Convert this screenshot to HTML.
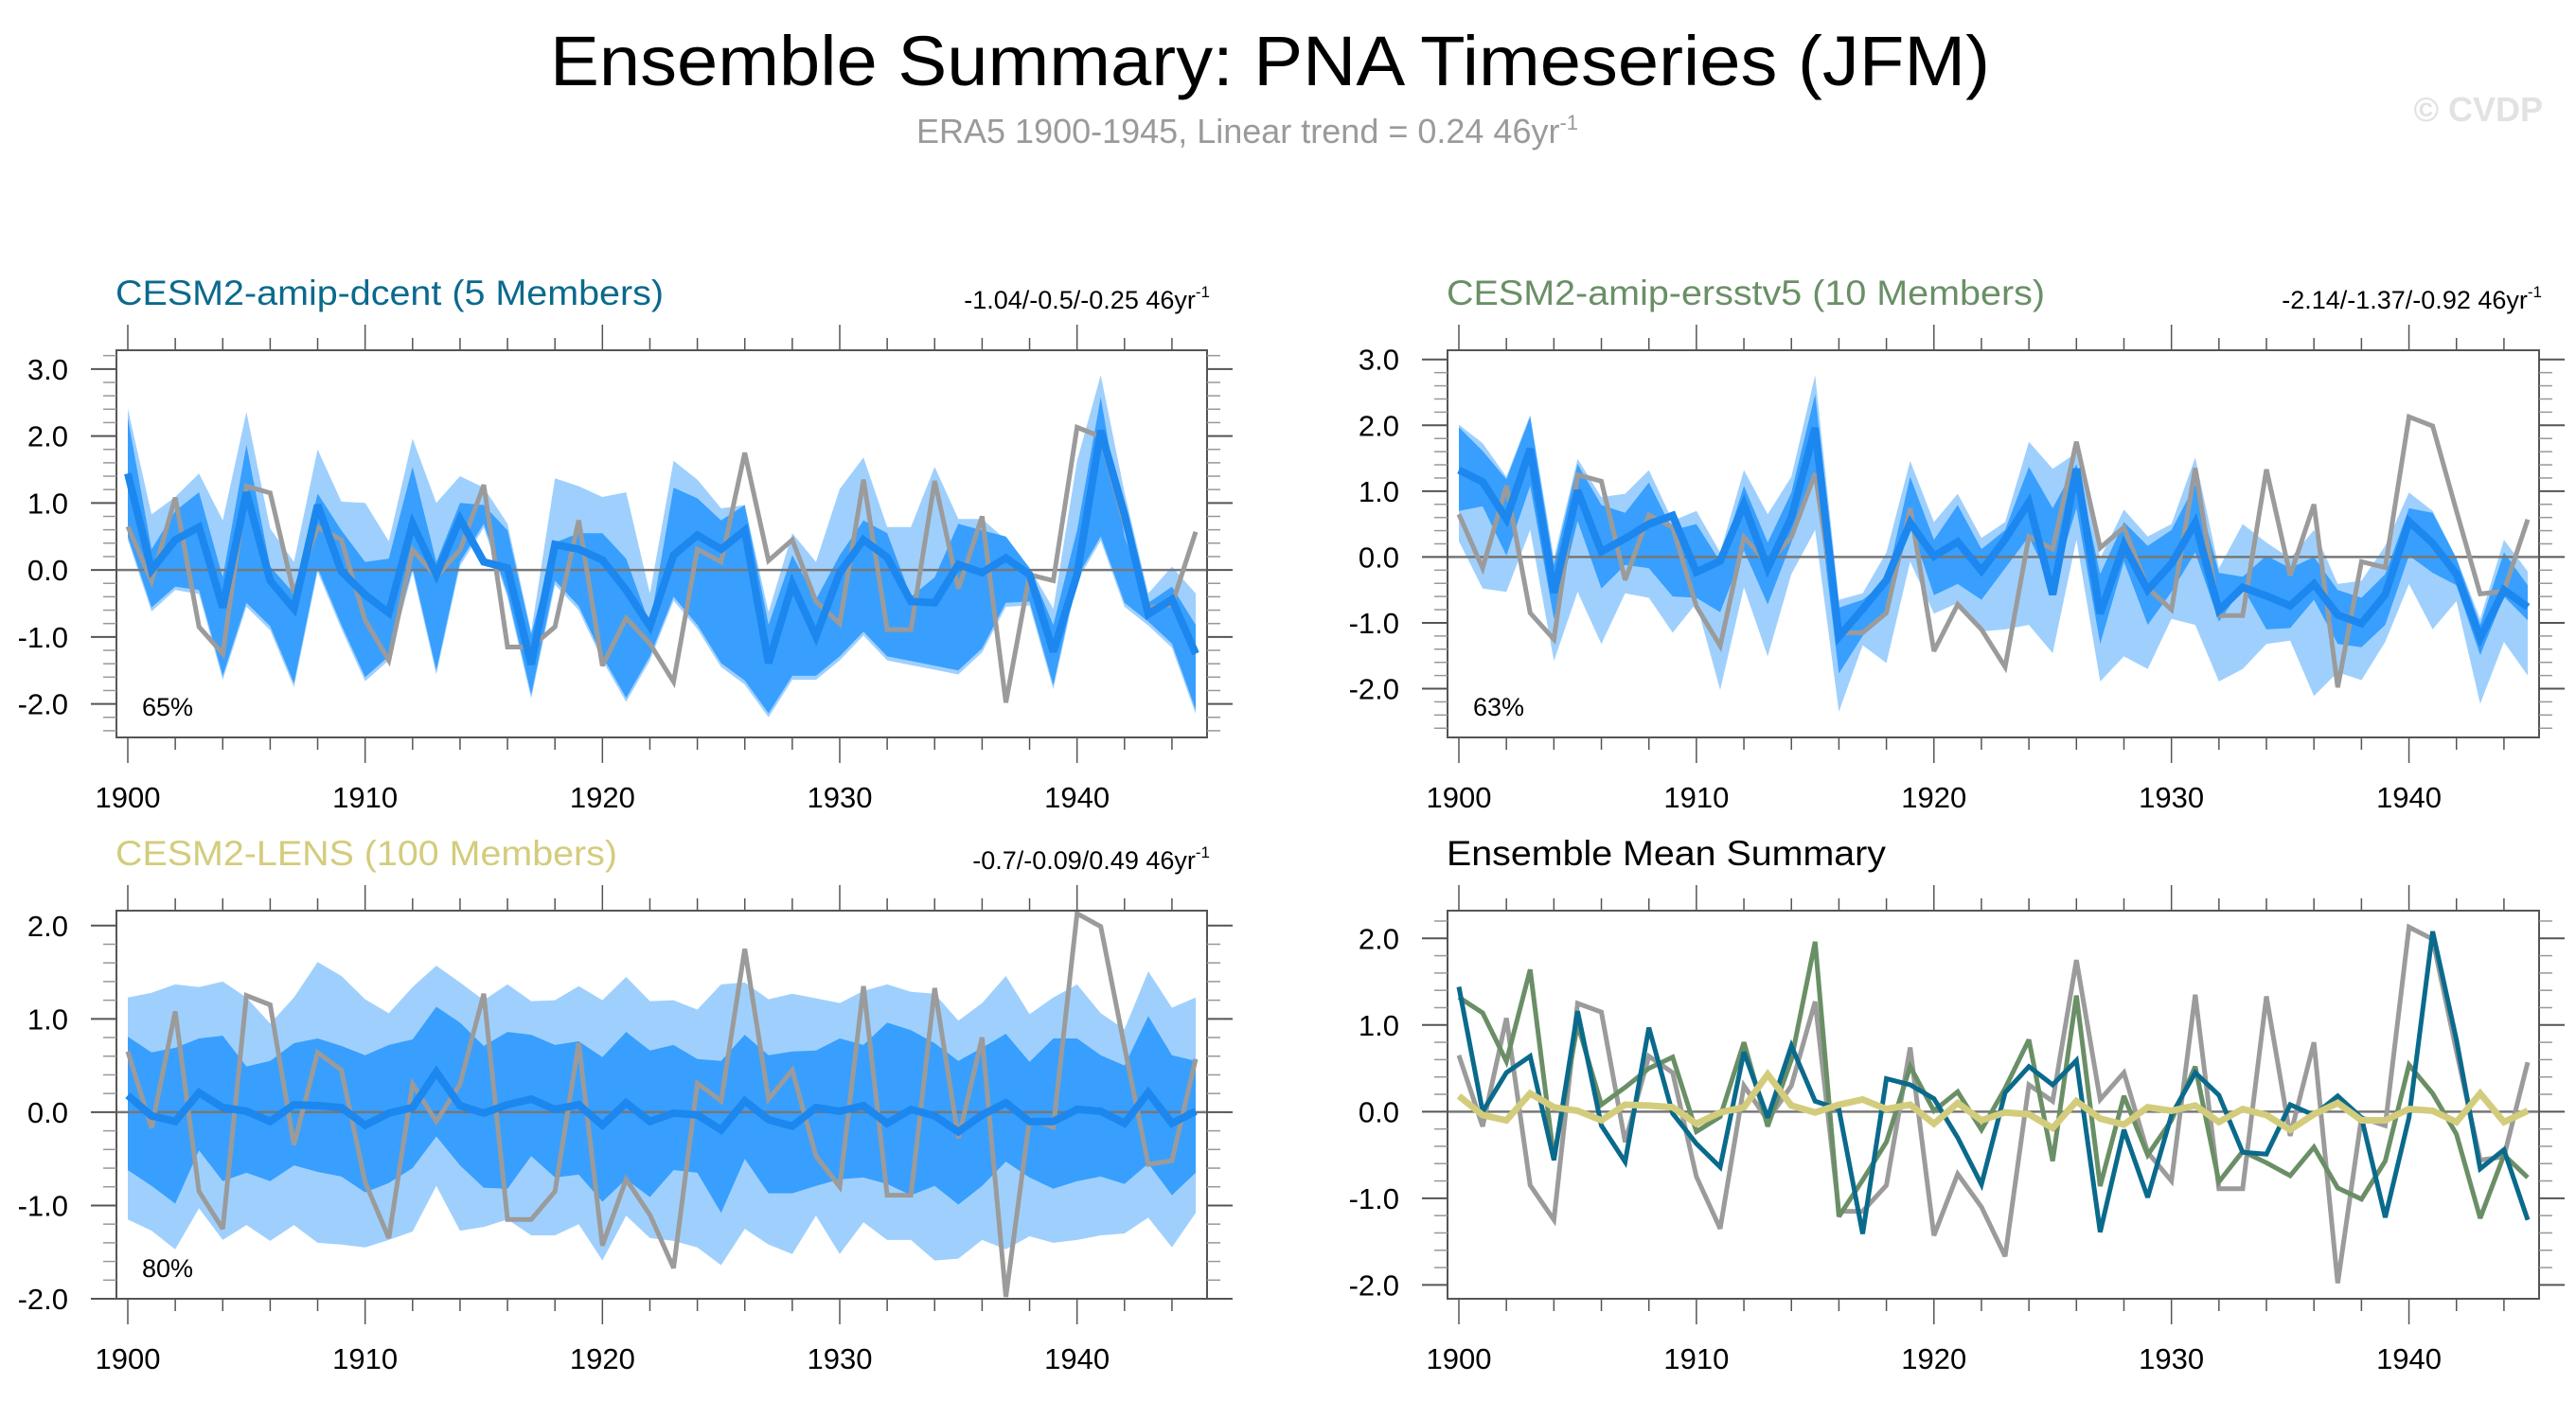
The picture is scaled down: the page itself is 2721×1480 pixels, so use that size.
<!DOCTYPE html>
<html><head><meta charset="utf-8"><title>Ensemble Summary: PNA Timeseries (JFM)</title>
<style>html,body{margin:0;padding:0;background:#fff}svg{display:block;font-family:"Liberation Sans",sans-serif}</style>
</head><body>
<svg id="chart" xmlns="http://www.w3.org/2000/svg" width="2721" height="1480" viewBox="0 0 2721 1480">
<text x="581" y="90" font-size="74" textLength="1521" lengthAdjust="spacingAndGlyphs">Ensemble Summary: PNA Timeseries (JFM)</text>
<text x="968" y="151" font-size="36" fill="#9a9a9a">ERA5 1900-1945, Linear trend = 0.24 46yr<tspan font-size="22" dy="-14">-1</tspan></text>
<text x="2686" y="128" font-size="36" font-weight="bold" fill="#e2e2e2" text-anchor="end">© CVDP</text>
<g id="panels"></g>
</svg>
<script>
const years = [];
for (let y = 1900; y <= 1945; y++) years.push(y);
const era5 = [0.65,-0.17,1.08,-0.85,-1.25,1.25,1.15,-0.35,0.64,0.45,-0.75,-1.35,0.3,-0.1,0.3,1.27,-1.15,-1.15,-0.85,0.74,-1.43,-0.72,-1.1,-1.67,0.31,0.12,1.75,0.14,0.45,-0.47,-0.8,1.35,-0.89,-0.89,1.33,-0.28,0.8,-1.98,-0.07,-0.16,2.13,1.99,0.7,-0.56,-0.52,0.57];
const dcentMean = [1.44,0.0,0.45,0.64,-0.56,1.16,-0.16,-0.58,0.97,-0.02,-0.37,-0.64,0.69,-0.07,0.76,0.12,0.03,-1.41,0.38,0.31,0.15,-0.3,-0.84,0.22,0.52,0.31,0.59,-1.39,-0.21,-0.99,-0.04,0.45,0.19,-0.47,-0.49,0.08,-0.04,0.18,-0.07,-1.22,-0.07,2.08,0.83,-0.66,-0.44,-1.25];
const dcentLightUp = [2.41,0.83,1.09,1.44,0.74,2.36,0.62,0.12,1.80,1.02,1.00,0.43,1.96,1.00,1.40,1.23,0.69,-0.92,1.37,1.25,1.09,1.16,-0.35,1.63,1.35,0.92,0.97,-0.63,0.55,0.12,1.21,1.68,0.64,0.64,1.54,0.76,0.76,0.45,0.03,-0.58,1.63,2.91,1.16,-0.35,0.05,-0.35];
const dcentDarkUp = [2.27,0.31,0.88,1.16,-0.11,1.87,0.05,-0.35,1.14,0.59,0.12,0.17,1.54,0.12,1.00,0.97,0.59,-0.96,0.41,0.55,0.55,0.17,-0.82,1.23,1.07,0.74,0.97,-0.82,0.22,-0.44,0.22,0.74,0.55,-0.40,-0.11,0.69,0.59,0.50,0.03,-0.82,0.59,2.58,0.50,-0.49,-0.25,-0.82];
const dcentDarkLo = [0.50,-0.56,-0.25,-0.30,-1.58,-0.49,-0.84,-1.69,0.03,-0.82,-1.60,-1.29,0.03,-1.50,0.12,0.69,-0.35,-1.86,-0.16,-0.54,-1.29,-1.91,-1.29,-0.40,-0.82,-1.39,-1.65,-2.14,-1.58,-1.58,-1.29,-0.92,-1.29,-1.36,-1.43,-1.50,-1.17,-0.49,-0.47,-1.72,-0.11,0.50,-0.49,-0.77,-1.10,-2.09];
const dcentLightLo = [0.45,-0.62,-0.30,-0.36,-1.64,-0.55,-0.90,-1.75,-0.03,-0.88,-1.66,-1.35,-0.03,-1.56,0.06,0.63,-0.41,-1.92,-0.22,-0.60,-1.35,-1.97,-1.35,-0.46,-0.88,-1.45,-1.71,-2.20,-1.64,-1.64,-1.35,-0.98,-1.35,-1.42,-1.49,-1.56,-1.23,-0.55,-0.53,-1.78,-0.17,0.44,-0.55,-0.83,-1.16,-2.15];
const ersstMean = [1.32,1.14,0.58,1.64,-0.54,1.01,0.08,0.28,0.5,0.63,-0.23,-0.06,0.8,-0.17,0.6,1.96,-1.21,-0.79,-0.35,0.52,0.01,0.23,-0.21,0.27,0.83,-0.57,1.34,-0.86,0.18,-0.5,-0.1,0.52,-0.81,-0.46,-0.59,-0.74,-0.41,-0.88,-1.01,-0.57,0.54,0.21,-0.26,-1.23,-0.5,-0.76];
const ersstLightUp = [2.01,1.73,1.22,2.16,-0.02,1.49,0.91,0.96,1.32,0.55,0.70,0.07,1.32,0.65,1.22,2.76,-0.65,-0.55,0.07,1.46,0.53,0.96,0.29,0.53,1.75,1.34,1.58,-0.02,0.72,0.31,0.50,1.51,-0.17,0.50,0.22,-0.02,0.41,-0.41,-0.36,0.17,0.98,0.70,-0.02,-0.94,0.26,-0.22];
const ersstDarkUp = [1.97,1.61,1.18,2.13,-0.12,1.41,0.79,0.67,1.13,0.41,0.50,-0.07,1.08,0.22,0.98,2.47,-0.77,-0.65,-0.36,1.22,0.26,0.79,0.12,0.41,1.37,0.74,1.41,-0.26,0.53,0.17,0.41,1.10,-0.24,-0.30,0.02,-0.17,0.00,-0.50,-0.62,-0.26,0.74,0.67,-0.02,-1.03,0.07,-0.43];
const ersstDarkLo = [0.70,0.77,0.02,1.08,-0.94,0.55,-0.48,-0.12,-0.17,-0.60,-0.62,-0.84,0.10,-0.72,0.22,1.22,-1.77,-1.20,-0.84,0.50,-0.58,-0.41,-0.65,-0.17,0.31,-0.46,0.74,-1.32,-0.07,-1.03,-0.53,0.07,-0.98,-0.46,-1.10,-1.08,-0.65,-1.32,-1.37,-1.03,0.02,-0.24,-0.43,-1.49,-0.60,-0.96];
const ersstLightLo = [0.24,-0.48,-0.53,0.41,-1.58,-0.53,-1.32,-0.55,-0.62,-1.15,-0.70,-2.02,-0.46,-1.51,-0.26,0.41,-2.35,-1.34,-1.61,-0.07,-0.86,-0.70,-1.13,-1.10,-1.03,-1.46,0.26,-1.89,-1.51,-1.70,-0.94,-1.03,-1.89,-1.70,-1.32,-1.27,-2.11,-1.75,-1.87,-1.29,-0.41,-1.10,-0.67,-2.23,-1.29,-1.80];
const lensMean = [0.18,-0.04,-0.1,0.21,0.05,0.01,-0.1,0.08,0.07,0.05,-0.14,-0.01,0.05,0.43,0.07,-0.01,0.08,0.14,0.03,0.08,-0.14,0.1,-0.1,-0.01,-0.03,-0.19,0.12,-0.08,-0.15,0.05,0.01,0.07,-0.12,0.03,-0.04,-0.21,-0.03,0.1,-0.1,-0.1,0.03,0.01,-0.12,0.21,-0.12,0.01];
const lensLightUp = [1.23,1.28,1.37,1.34,1.40,1.23,0.95,1.23,1.61,1.46,1.21,1.06,1.34,1.57,1.39,1.20,1.37,1.19,1.20,1.35,1.20,1.45,1.19,1.20,1.10,1.37,1.39,1.21,1.27,1.22,1.17,1.30,1.37,1.29,1.27,0.98,1.17,1.46,1.05,1.23,1.37,1.06,0.89,1.51,1.12,1.23];
const lensDarkUp = [0.81,0.64,0.69,0.79,0.82,0.49,0.55,0.74,0.79,0.71,0.61,0.72,0.78,1.13,0.96,0.71,0.86,0.83,0.72,0.76,0.59,0.86,0.66,0.72,0.57,0.55,0.83,0.61,0.65,0.66,0.79,0.72,0.96,0.88,0.74,0.55,0.69,0.84,0.54,0.79,0.79,0.61,0.50,1.03,0.61,0.55];
const lensDarkLo = [-0.62,-0.79,-0.98,-0.41,-0.74,-0.65,-0.74,-0.57,-0.64,-0.69,-0.86,-0.76,-0.60,-0.26,-0.57,-0.81,-0.82,-0.47,-0.70,-0.67,-0.96,-0.72,-0.91,-0.62,-0.65,-1.08,-0.50,-0.87,-0.87,-0.79,-0.72,-0.70,-0.77,-0.89,-0.79,-0.99,-0.79,-0.53,-0.70,-0.82,-0.74,-0.69,-0.77,-0.55,-0.89,-0.65];
const lensLightLo = [-1.15,-1.27,-1.47,-1.03,-1.37,-1.21,-1.38,-1.21,-1.40,-1.42,-1.45,-1.37,-1.28,-0.79,-1.27,-1.23,-1.15,-1.32,-1.32,-1.20,-1.59,-1.11,-1.35,-1.38,-1.45,-1.64,-1.25,-1.42,-1.52,-1.11,-1.52,-1.18,-1.37,-1.37,-1.59,-1.57,-1.37,-1.47,-1.33,-1.40,-1.37,-1.32,-1.30,-1.13,-1.45,-1.08];
const xTickLabels = [1900,1910,1920,1930,1940];
const yTicks1 = [-2,-1,0,1,2,3];
const yTicks3 = [-2,-1,0,1,2];

const NS = 'http://www.w3.org/2000/svg';
const root = document.getElementById('panels');
function mk(tag, attrs, parent){
  const e = document.createElementNS(NS, tag);
  for (const k in attrs) e.setAttribute(k, attrs[k]);
  (parent||root).appendChild(e);
  return e;
}
const panels = [
  {key:'dcent', L:123,R:1275,T:370,B:779,ymin:-2.5,ymax:3.28,ticks:yTicks1,title:'CESM2-amip-dcent (5 Members)',tcol:'#0a6a8c',tlen:579,trend:'-1.04/-0.5/-0.25 46yr',pct:'65%',
   bands:[dcentLightUp,dcentLightLo,dcentDarkUp,dcentDarkLo],mean:dcentMean},
  {key:'ersstv5', L:1529,R:2682,T:370,B:779,ymin:-2.74,ymax:3.14,ticks:yTicks1,title:'CESM2-amip-ersstv5 (10 Members)',tcol:'#6a8f66',tlen:632,trend:'-2.14/-1.37/-0.92 46yr',pct:'63%',
   bands:[ersstLightUp,ersstLightLo,ersstDarkUp,ersstDarkLo],mean:ersstMean},
  {key:'lens', L:123,R:1275,T:962,B:1372,ymin:-2.0,ymax:2.16,ticks:yTicks3,title:'CESM2-LENS (100 Members)',tcol:'#d3cc7c',tlen:530,trend:'-0.7/-0.09/0.49 46yr',pct:'80%',
   bands:[lensLightUp,lensLightLo,lensDarkUp,lensDarkLo],mean:lensMean},
  {key:'summary', L:1529,R:2682,T:962,B:1372,ymin:-2.16,ymax:2.32,ticks:yTicks3,title:'Ensemble Mean Summary',tcol:'#000',tlen:464,trend:null,pct:null,bands:null,mean:null}
];
panels.forEach(p=>{
  const g = mk('g',{});
  
  
  const xs = i => p.L + 12 + (p.R - p.L - 24) * i / 45;
  const xy = yr => xs(yr - 1900);
  const ys = v => p.B - (v - p.ymin) / (p.ymax - p.ymin) * (p.B - p.T);
  const clip = 'clip-' + p.key;
  const cp = mk('clipPath',{id:clip},g);
  mk('rect',{x:p.L,y:p.T,width:p.R-p.L,height:p.B-p.T},cp);
  const plot = mk('g',{'clip-path':'url(#'+clip+')'},g);
  if (p.bands){
    const band = (up, lo, col, nm) => {
      let d = 'M';
      up.forEach((v,i)=>{ d += xs(i).toFixed(1)+','+ys(v).toFixed(1)+' L'; });
      for (let i=lo.length-1;i>=0;i--){ d += xs(i).toFixed(1)+','+ys(lo[i]).toFixed(1)+(i?' L':' Z'); }
      const e = mk('path',{d:d,fill:col},plot);
      
      
    };
    band(p.bands[0],p.bands[1],'#9fd0fd','range-band-light');
    band(p.bands[2],p.bands[3],'#389ffe','range-band-dark');
  }
  const z = mk('line',{x1:p.L,x2:p.R,y1:ys(0),y2:ys(0),stroke:'#777','stroke-width':2.5},plot);
  
  
  const line = (vals,col,w,nm) => {
    const pts = vals.map((v,i)=>xs(i).toFixed(1)+','+ys(v).toFixed(1)).join(' ');
    const e = mk('polyline',{points:pts,fill:'none',stroke:col,'stroke-width':w,'stroke-linejoin':'miter','stroke-miterlimit':3},plot);
    
    
  };
  if (p.mean){
    line(era5,'#9b9b9b',5,'era5-line');
    line(p.mean,'#1c87ee',8,'ensemble-mean-line');
  } else {
    line(era5,'#9b9b9b',5,'era5-line');
    line(ersstMean,'#6a8f66',5,'ersstv5-mean-line');
    line(dcentMean,'#0a6a8c',5,'dcent-mean-line');
    line(lensMean,'#d3cc7c',7,'lens-mean-line');
  }
  const box = mk('rect',{x:p.L,y:p.T,width:p.R-p.L,height:p.B-p.T,fill:'none',stroke:'#555','stroke-width':2},g);
  
  
  // x ticks
  for (let yr=1900; yr<=1945; yr+=2){
    const major = (yr % 10 === 0);
    const len = major ? 27 : 13;
    const x = xy(yr);
    mk('line',{x1:x,x2:x,y1:p.B,y2:p.B+len,stroke:'#555','stroke-width':1.5},g);
    mk('line',{x1:x,x2:x,y1:p.T,y2:p.T-len,stroke:'#555','stroke-width':1.5},g);
  }
  xTickLabels.forEach(yr=>{
    const t = mk('text',{x:xy(yr),y:p.B+74,'font-size':31,'text-anchor':'middle'},g);
    t.textContent = yr;
    
    
  });
  // y ticks
  for (let k=Math.ceil(p.ymin*5); k<=Math.floor(p.ymax*5); k++){
    const v = k/5, major = (k % 5 === 0);
    const len = major ? 27 : 14;
    const y = ys(v);
    mk('line',{x1:p.L-len,x2:p.L,y1:y,y2:y,stroke:major?'#555':'#999','stroke-width':major?2:1.5},g);
    mk('line',{x1:p.R,x2:p.R+len,y1:y,y2:y,stroke:major?'#555':'#999','stroke-width':major?2:1.5},g);
  }
  p.ticks.forEach(v=>{
    const t = mk('text',{x:p.L-51,y:ys(v)+11,'font-size':31,'text-anchor':'end'},g);
    t.textContent = v.toFixed(1);
    
    
  });
  const tt = mk('text',{x:p.L-1,y:p.T-48,'font-size':37,fill:p.tcol,textLength:p.tlen,lengthAdjust:'spacingAndGlyphs'},g);
  tt.textContent = p.title;
  
  
  if (p.trend){
    const tr = mk('text',{x:p.R+3,y:p.T-44,'font-size':27,'text-anchor':'end'},g);
    tr.textContent = p.trend;
    const sup = mk('tspan',{'font-size':17,dy:-12},tr);
    sup.textContent = '-1';
    
    
  }
  if (p.pct){
    const pc = mk('text',{x:p.L+27,y:p.B-23,'font-size':27},g);
    pc.textContent = p.pct;
    
    
  }
});
</script>
</body></html>
